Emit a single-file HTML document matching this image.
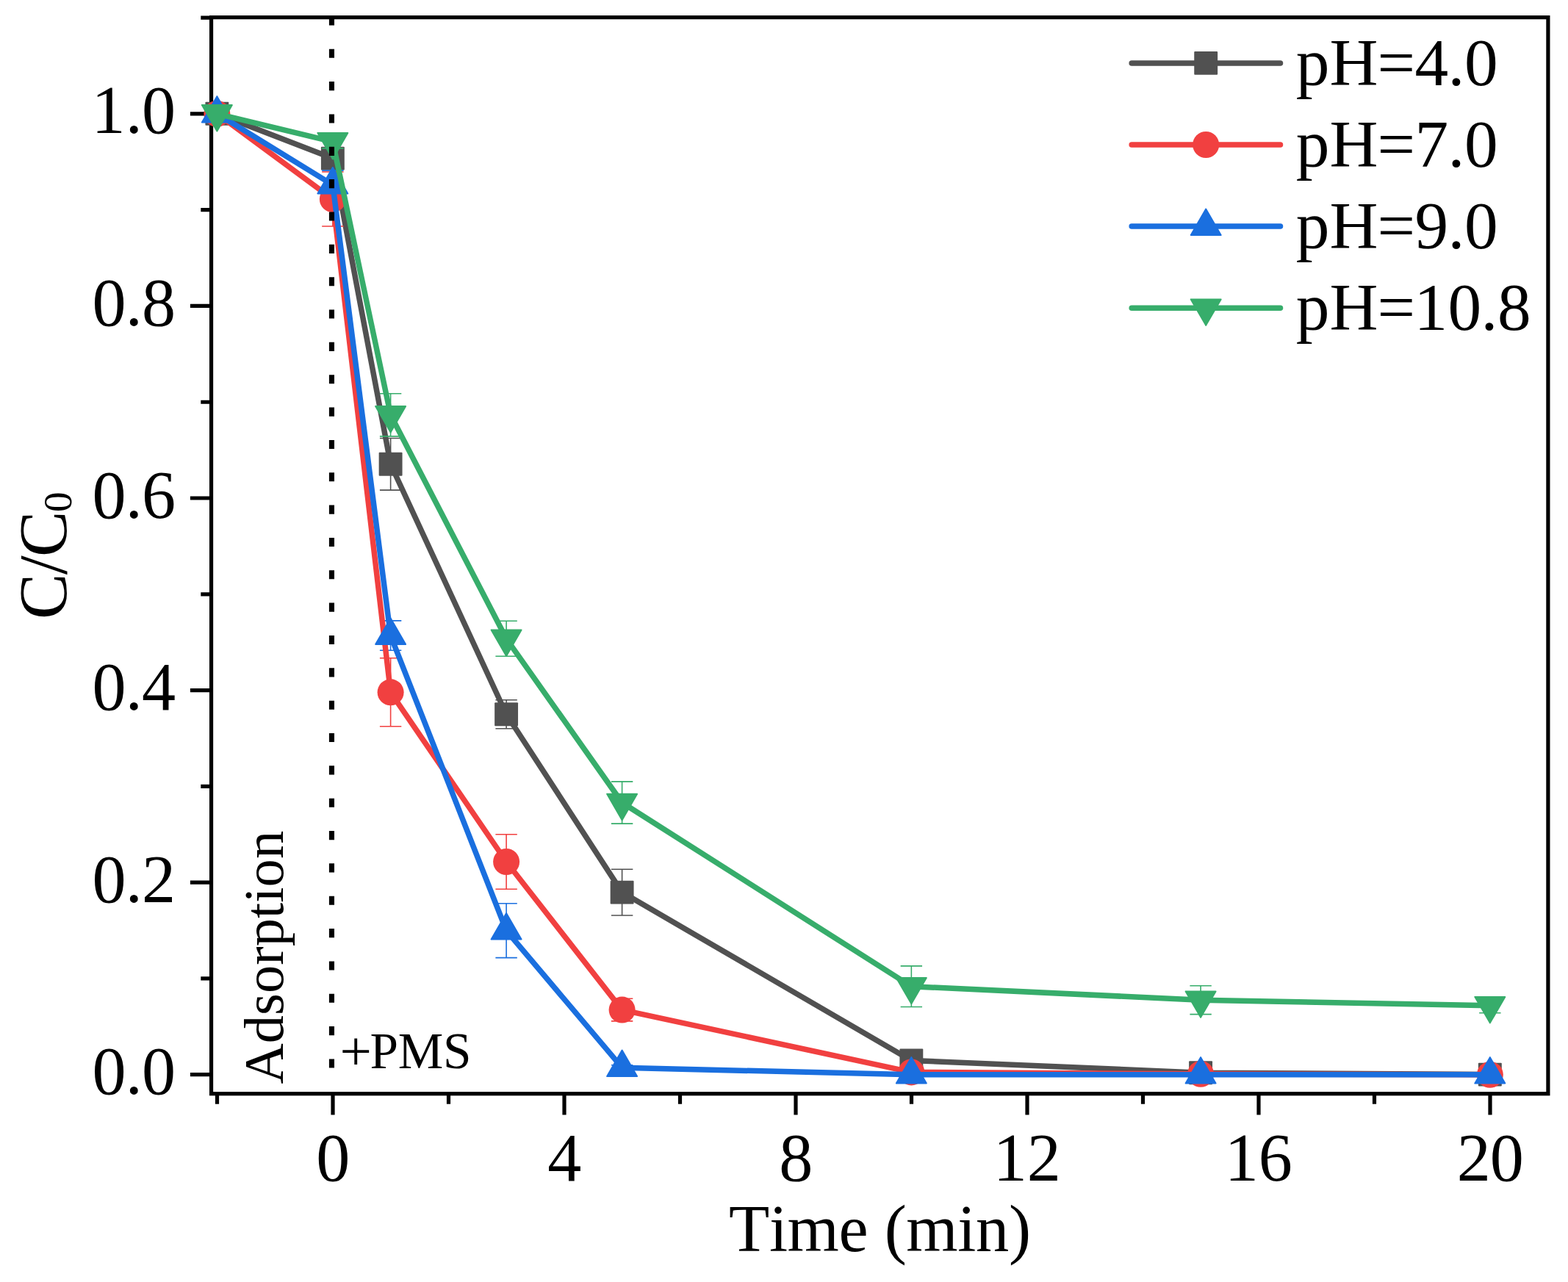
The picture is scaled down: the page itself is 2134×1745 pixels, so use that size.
<!DOCTYPE html>
<html lang="en"><head><meta charset="utf-8"><title>C/C0 vs Time at different pH</title>
<style>html,body{margin:0;padding:0;background:#fff;overflow:hidden}svg{display:block}text{font-family:"Liberation Serif","Times New Roman",Times,serif;fill:#000;font-kerning:none;white-space:pre}</style></head><body>
<svg width="2134" height="1745" viewBox="0 0 2134 1745">
<rect width="2134" height="1745" fill="#fff"/>
<g stroke="#000" stroke-width="5.2" fill="none" stroke-linecap="butt">
<rect x="287.55" y="23.65" width="1819.35" height="1465.1"/>
<path d="M287.55 154.9H258.9M287.55 416.46H258.9M287.55 678.02H258.9M287.55 939.58H258.9M287.55 1201.14H258.9M287.55 1462.7H258.9M287.55 24.12H273.3M287.55 285.68H273.3M287.55 547.24H273.3M287.55 808.8H273.3M287.55 1070.36H273.3M287.55 1331.92H273.3M453 1488.75V1517.4M768 1488.75V1517.4M1083 1488.75V1517.4M1398 1488.75V1517.4M1713 1488.75V1517.4M2028 1488.75V1517.4M295.5 1488.75V1502.8M610.5 1488.75V1502.8M925.5 1488.75V1502.8M1240.5 1488.75V1502.8M1555.5 1488.75V1502.8M1870.5 1488.75V1502.8"/>
</g>
<g>
<path d="M531.6 596.5V667.1M516.9 596.5H546.3M516.9 667.1H546.3M689.1 952.7V991.7M674.4 952.7H703.8M674.4 991.7H703.8M846.6 1183.2V1246M831.9 1183.2H861.3M831.9 1246H861.3" fill="none" stroke="#515151" stroke-width="1.6"/>
<polyline points="295.35,154.8 452.85,215.6 531.6,631.8 689.1,972.2 846.6,1214.6 1240.35,1443.4 1634.1,1460.2 2027.85,1462.6" fill="none" stroke="#515151" stroke-width="7.5" stroke-linejoin="round" stroke-linecap="round"/>
<rect x="279.4" y="138.85" width="31.9" height="31.9" rx="1" fill="#515151"/><rect x="436.9" y="199.65" width="31.9" height="31.9" rx="1" fill="#515151"/><rect x="515.65" y="615.85" width="31.9" height="31.9" rx="1" fill="#515151"/><rect x="673.15" y="956.25" width="31.9" height="31.9" rx="1" fill="#515151"/><rect x="830.65" y="1198.65" width="31.9" height="31.9" rx="1" fill="#515151"/><rect x="1224.4" y="1427.45" width="31.9" height="31.9" rx="1" fill="#515151"/><rect x="1618.15" y="1444.25" width="31.9" height="31.9" rx="1" fill="#515151"/><rect x="2011.9" y="1446.65" width="31.9" height="31.9" rx="1" fill="#515151"/>
<path d="M452.85 234V308M438.15 234H467.55M438.15 308H467.55M531.6 895.8V988.8M516.9 895.8H546.3M516.9 988.8H546.3M689.1 1135.7V1210.3M674.4 1135.7H703.8M674.4 1210.3H703.8M846.6 1359.3V1389.9M831.9 1359.3H861.3M831.9 1389.9H861.3" fill="none" stroke="#F14040" stroke-width="1.6"/>
<path d="M452.85 232.1V271.1M438.15 232.1H467.55M438.15 271.1H467.55M531.6 844.9V885.3M516.9 844.9H546.3M516.9 885.3H546.3M689.1 1229.8V1303.6M674.4 1229.8H703.8M674.4 1303.6H703.8M846.6 1449.8V1456.6M831.9 1449.8H861.3M831.9 1456.6H861.3" fill="none" stroke="#1A6FDF" stroke-width="1.6"/>
<polyline points="295.35,154.8 452.85,271 531.6,942.3 689.1,1173 846.6,1374.6 1240.35,1459.4 1634.1,1461.8 2027.85,1462.8" fill="none" stroke="#F14040" stroke-width="7.5" stroke-linejoin="round" stroke-linecap="round"/>
<circle cx="295.35" cy="154.8" r="18" fill="#F14040"/><circle cx="452.85" cy="271" r="18" fill="#F14040"/><circle cx="531.6" cy="942.3" r="18" fill="#F14040"/><circle cx="689.1" cy="1173" r="18" fill="#F14040"/><circle cx="846.6" cy="1374.6" r="18" fill="#F14040"/><circle cx="1240.35" cy="1459.4" r="18" fill="#F14040"/><circle cx="1634.1" cy="1461.8" r="18" fill="#F14040"/><circle cx="2027.85" cy="1462.8" r="18" fill="#F14040"/>
<polyline points="295.35,154.8 452.85,251.6 531.6,865.1 689.1,1266.7 846.6,1453.2 1240.35,1462.8 1634.1,1462.8 2027.85,1462.8" fill="none" stroke="#1A6FDF" stroke-width="7.5" stroke-linejoin="round" stroke-linecap="round"/>
<polygon points="295.35,131.17 274.88,166.62 315.82,166.62" fill="#1A6FDF" stroke="#1A6FDF" stroke-width="2" stroke-linejoin="round"/><polygon points="452.85,227.97 432.38,263.42 473.32,263.42" fill="#1A6FDF" stroke="#1A6FDF" stroke-width="2" stroke-linejoin="round"/><polygon points="531.6,841.47 511.13,876.92 552.07,876.92" fill="#1A6FDF" stroke="#1A6FDF" stroke-width="2" stroke-linejoin="round"/><polygon points="689.1,1243.07 668.63,1278.52 709.57,1278.52" fill="#1A6FDF" stroke="#1A6FDF" stroke-width="2" stroke-linejoin="round"/><polygon points="846.6,1429.57 826.13,1465.02 867.07,1465.02" fill="#1A6FDF" stroke="#1A6FDF" stroke-width="2" stroke-linejoin="round"/><polygon points="1240.35,1439.17 1219.88,1474.62 1260.82,1474.62" fill="#1A6FDF" stroke="#1A6FDF" stroke-width="2" stroke-linejoin="round"/><polygon points="1634.1,1439.17 1613.63,1474.62 1654.57,1474.62" fill="#1A6FDF" stroke="#1A6FDF" stroke-width="2" stroke-linejoin="round"/><polygon points="2027.85,1439.17 2007.38,1474.62 2048.32,1474.62" fill="#1A6FDF" stroke="#1A6FDF" stroke-width="2" stroke-linejoin="round"/>
<path d="M452.85 183.7V201.9M438.15 183.7H467.55M438.15 201.9H467.55M531.6 535.7V593.9M516.9 535.7H546.3M516.9 593.9H546.3M689.1 845.3V893.3M674.4 845.3H703.8M674.4 893.3H703.8M846.6 1063.9V1121.1M831.9 1063.9H861.3M831.9 1121.1H861.3M1240.35 1314.9V1370.5M1225.65 1314.9H1255.05M1225.65 1370.5H1255.05M1634.1 1341.8V1380.6M1619.4 1341.8H1648.8M1619.4 1380.6H1648.8M2027.85 1358.7V1378.7M2013.15 1358.7H2042.55M2013.15 1378.7H2042.55" fill="none" stroke="#37AD6B" stroke-width="1.6"/>
<polyline points="295.35,154.8 452.85,192.8 531.6,564.8 689.1,869.3 846.6,1092.5 1240.35,1342.7 1634.1,1361.2 2027.85,1368.7" fill="none" stroke="#37AD6B" stroke-width="7.5" stroke-linejoin="round" stroke-linecap="round"/>
<polygon points="295.35,178.43 274.88,142.98 315.82,142.98" fill="#37AD6B" stroke="#37AD6B" stroke-width="2" stroke-linejoin="round"/><polygon points="452.85,216.43 432.38,180.98 473.32,180.98" fill="#37AD6B" stroke="#37AD6B" stroke-width="2" stroke-linejoin="round"/><polygon points="531.6,588.43 511.13,552.98 552.07,552.98" fill="#37AD6B" stroke="#37AD6B" stroke-width="2" stroke-linejoin="round"/><polygon points="689.1,892.93 668.63,857.48 709.57,857.48" fill="#37AD6B" stroke="#37AD6B" stroke-width="2" stroke-linejoin="round"/><polygon points="846.6,1116.13 826.13,1080.68 867.07,1080.68" fill="#37AD6B" stroke="#37AD6B" stroke-width="2" stroke-linejoin="round"/><polygon points="1240.35,1366.33 1219.88,1330.88 1260.82,1330.88" fill="#37AD6B" stroke="#37AD6B" stroke-width="2" stroke-linejoin="round"/><polygon points="1634.1,1384.83 1613.63,1349.38 1654.57,1349.38" fill="#37AD6B" stroke="#37AD6B" stroke-width="2" stroke-linejoin="round"/><polygon points="2027.85,1392.33 2007.38,1356.88 2048.32,1356.88" fill="#37AD6B" stroke="#37AD6B" stroke-width="2" stroke-linejoin="round"/>
</g>
<path d="M451.45 22.4v12.1M451.45 66.75v12.1M451.45 111.09v12.1M451.45 155.44v12.1M451.45 199.78v12.1M451.45 244.12v12.1M451.45 288.47v12.1M451.45 332.81v12.1M451.45 377.16v12.1M451.45 421.5v12.1M451.45 465.85v12.1M451.45 510.19v12.1M451.45 554.54v12.1M451.45 598.88v12.1M451.45 643.23v12.1M451.45 687.57v12.1M451.45 731.92v12.1M451.45 776.26v12.1M451.45 820.61v12.1M451.45 864.95v12.1M451.45 909.3v12.1M451.45 953.64v12.1M451.45 997.99v12.1M451.45 1042.34v12.1M451.45 1086.68v12.1M451.45 1131.03v12.1M451.45 1175.37v12.1M451.45 1219.72v12.1M451.45 1264.06v12.1M451.45 1308.4v12.1M451.45 1352.75v12.1M451.45 1397.1v12.1M451.45 1441.44v12.1" stroke="#000" stroke-width="7.1" fill="none"/>
<text x="124.5 170.78 193" y="181.4" font-size="92.2">1.0</text>
<text x="125.5 170.78 193" y="442.96" font-size="92.2">0.8</text>
<text x="125.5 170.78 193" y="704.52" font-size="92.2">0.6</text>
<text x="125.5 170.78 193" y="966.08" font-size="92.2">0.4</text>
<text x="125.5 170.78 193" y="1227.64" font-size="92.2">0.2</text>
<text x="125.5 170.78 193" y="1489.2" font-size="92.2">0.0</text>
<text x="430.35" y="1607.1" font-size="92.2">0</text>
<text x="745.35" y="1607.1" font-size="92.2">4</text>
<text x="1060.35" y="1607.1" font-size="92.2">8</text>
<text x="1351.85 1397.85" y="1607.1" font-size="92.2">12</text>
<text x="1666.85 1712.85" y="1607.1" font-size="92.2">16</text>
<text x="1982.85 2027.85" y="1607.1" font-size="92.2">20</text>
<text x="992.06 1046.92 1071.61 1141.44 1181.29 1203.65 1233.31 1303.21 1328.01 1372.88" y="1702.6" font-size="90.4">Time (min)</text>
<text transform="translate(89.9 841.8) rotate(-90)" font-size="93.5" x="-1.17 59.54 83.87" y="0">C/C<tspan font-size="55" x="144.76" y="6.6">0</tspan></text>
<text y="115.9" font-size="91.4" x="1763.65 1809.49 1874.6 1925.4 1970.58 1992.9">pH=4.0</text>
<text y="226.6" font-size="91.4" x="1763.65 1809.49 1874.6 1925.4 1970.58 1992.9">pH=7.0</text>
<text y="337.6" font-size="91.4" x="1763.65 1809.49 1874.6 1925.4 1970.58 1992.9">pH=9.0</text>
<text y="449.4" font-size="91.4" x="1763.65 1809.49 1874.6 1924.4 1970.4 2015.58 2037.9">pH=10.8</text>
<text y="1453.8" font-size="69.2"><tspan font-size="77" x="462.4" dy="1.8">+</tspan><tspan x="503.6 541.7 603.1" dy="-1.8">PMS</tspan></text>
<text font-size="76.6" transform="translate(384.9 1475.5) rotate(-90)" x="0 55.32 93.62 123.43 161.73 187.24 225.54 246.82 268.1 306.4" y="0">Adsorption</text>
<line x1="1540.2" y1="85.9" x2="1742.5" y2="85.9" stroke="#515151" stroke-width="7.5" stroke-linecap="round"/>
<rect x="1625.25" y="69.95" width="31.9" height="31.9" rx="1" fill="#515151"/>
<line x1="1540.2" y1="197" x2="1742.5" y2="197" stroke="#F14040" stroke-width="7.5" stroke-linecap="round"/>
<circle cx="1641.2" cy="197" r="18" fill="#F14040"/>
<line x1="1540.2" y1="308.1" x2="1742.5" y2="308.1" stroke="#1A6FDF" stroke-width="7.5" stroke-linecap="round"/>
<polygon points="1641.2,284.47 1620.73,319.92 1661.67,319.92" fill="#1A6FDF" stroke="#1A6FDF" stroke-width="2" stroke-linejoin="round"/>
<line x1="1540.2" y1="419.2" x2="1742.5" y2="419.2" stroke="#37AD6B" stroke-width="7.5" stroke-linecap="round"/>
<polygon points="1641.2,442.83 1620.73,407.38 1661.67,407.38" fill="#37AD6B" stroke="#37AD6B" stroke-width="2" stroke-linejoin="round"/>
</svg></body></html>
